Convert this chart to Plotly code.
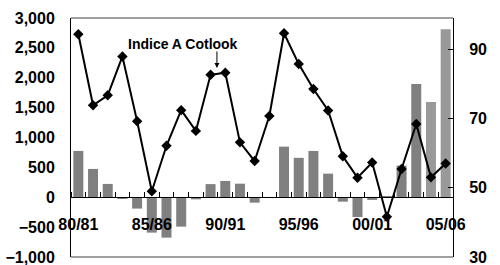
import plotly.graph_objects as go

seasons = ["80/81", "81/82", "82/83", "83/84", "84/85", "85/86", "86/87", "87/88",
           "88/89", "89/90", "90/91", "91/92", "92/93", "93/94", "94/95", "95/96",
           "96/97", "97/98", "98/99", "99/00", "00/01", "01/02", "02/03", "03/04",
           "04/05", "05/06"]
stock_change = [775, 474, 223, -18, -190, -592, -676, -492, -35, 220, 273, 227,
                -90, 0, 847, 660, 775, 395, -74, -330, -45, 12, 529, 1896, 1595, 2810]
cotlook_a = [94.3, 73.8, 76.7, 87.9, 69.2, 49.0, 62.1, 72.4, 66.4, 82.6, 83.2, 63.1,
             57.7, 70.7, 94.6, 85.7, 78.5, 72.3, 59.1, 52.9, 57.3, 41.6, 55.4, 68.4,
             53.0, 57.0]
label_seasons = ["80/81", "85/86", "90/91", "95/96", "00/01", "05/06"]
left_ticks = [-1000, -500, 0, 500, 1000, 1500, 2000, 2500, 3000]
right_ticks = [30, 50, 70, 90]

xs = list(range(len(seasons)))
bar_colors = ["#808080"] * (len(seasons) - 2) + ["#999999"] * 2
label_pos = [seasons.index(s) for s in label_seasons]

FONT = "Liberation Sans"

fig = go.Figure()
fig.add_trace(go.Bar(x=xs, y=stock_change, marker=dict(color=bar_colors, line=dict(width=0)),
                     yaxis="y", showlegend=False))
fig.add_trace(go.Scatter(x=xs, y=cotlook_a, yaxis="y2", mode="lines+markers",
                         line=dict(color="black", width=2),
                         marker=dict(symbol="diamond", size=8, color="black"),
                         showlegend=False))

fig.update_layout(
    width=500, height=265,
    margin=dict(l=71, r=47, t=18, b=8, autoexpand=False),
    paper_bgcolor="white", plot_bgcolor="white",
    bargap=0.32,
    font=dict(family=FONT, size=16, color="black", weight="bold"),
    xaxis=dict(range=[-0.5, len(seasons) - 0.5], tickmode="array",
               tickvals=label_pos, ticktext=label_seasons, ticks="",
               showgrid=False, zeroline=False, showline=True, linecolor="black",
               linewidth=1, anchor="free", position=0.25,
               ticklabelstandoff=13, ticklabeloverflow="allow",
               tickfont=dict(family=FONT, size=16, weight="bold"),
               minor=dict(tickmode="linear", tick0=-0.5, dtick=1, ticks="inside",
                          ticklen=5, tickcolor="black", tickwidth=1, showgrid=False)),
    yaxis=dict(range=[-1000, 3000], tickvals=left_ticks, tickformat=",",
               showgrid=False, zeroline=False, showline=True, linecolor="black",
               linewidth=1, ticks="", ticklabelstandoff=12, ticklabeloverflow="allow",
               tickfont=dict(family=FONT, size=16, weight="bold")),
    yaxis2=dict(range=[30, 99], tickvals=right_ticks, overlaying="y", side="right",
                showgrid=False, zeroline=False, showline=True, linecolor="black",
                linewidth=1, ticks="inside", ticklen=5, tickcolor="black",
                ticklabelstandoff=12, ticklabeloverflow="allow",
                tickfont=dict(family=FONT, size=16, weight="bold")),
)

fig.add_shape(type="line", xref="paper", yref="paper", x0=0, x1=1, y0=1, y1=1,
              line=dict(color="#808080", width=1.5))
fig.add_shape(type="line", xref="paper", yref="paper", x0=0, x1=1, y0=0, y1=0,
              line=dict(color="#808080", width=1.5))

fig.add_annotation(text="Indice A Cotlook", xref="paper", yref="paper",
                   x=0.293, y=0.893, xanchor="center", yanchor="middle",
                   showarrow=False,
                   font=dict(family=FONT, size=14, weight="bold"))
fig.add_annotation(text="", xref="paper", yref="paper", x=0.382, y=0.791,
                   ax=0, ay=-18, showarrow=True, arrowhead=2, arrowsize=1,
                   arrowwidth=1, arrowcolor="black")

fig.write_html("out.html", config={"displayModeBar": False},
               post_script="document.body.style.margin='0';")
